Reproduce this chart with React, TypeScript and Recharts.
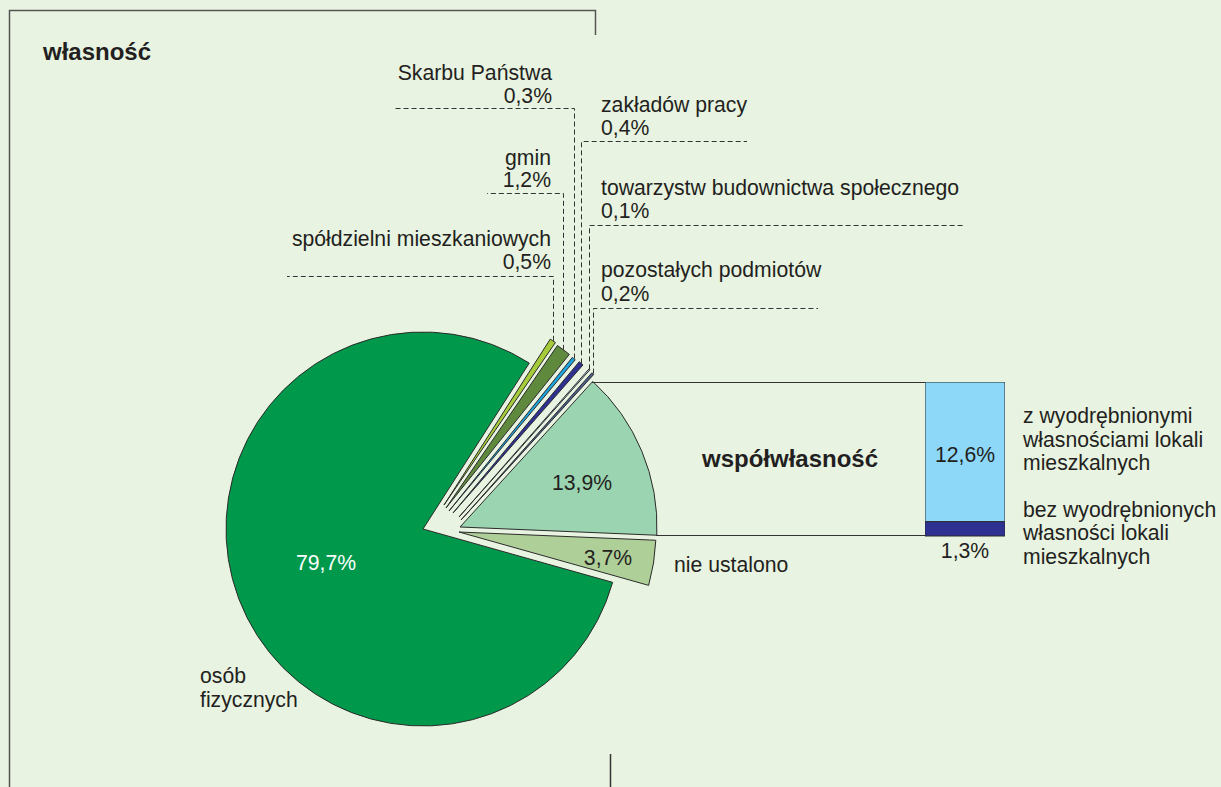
import React from "react";
import {
  PieChart,
  Pie,
  Cell,
  Sector,
  BarChart,
  Bar,
  XAxis,
  YAxis,
  LabelList
} from "recharts";

// struktura własności - kolejność wycinków przeciwnie do ruchu wskazówek zegara
const SLICE_NAMES = [
  "współwłasność",
  "pozostałych podmiotów",
  "towarzystw budownictwa społecznego",
  "zakładów pracy",
  "Skarbu Państwa",
  "gmin",
  "spółdzielni mieszkaniowych",
  "osób fizycznych",
  "nie ustalono"
];
const SLICE_VALUES = [13.9, 0.2, 0.1, 0.4, 0.3, 1.2, 0.5, 79.7, 3.7];

// rozbicie współwłasności
const CO_NAMES = ["bez wyodrębnionych", "z wyodrębnionymi"];
const CO_VALUES = [1.3, 12.6];

const SLICE_COLORS = [
  "#9bd4b0",
  "#4b5f8a",
  "#bfe3f5",
  "#2e3192",
  "#1ba3dd",
  "#5f8a3e",
  "#a5cb3a",
  "#00994c",
  "#afcf98"
];

// przesunięcie wysuniętych wycinków [dx, dy]
const SLICE_SHIFT: number[][] = [
  [37, -2],
  [38, -9],
  [36, -12],
  [30, -16],
  [26, -18],
  [23, -21],
  [21, -24],
  [0, 0],
  [36, 3]
];

// linie odniesienia: wysokość poziomej linii i jej drugi koniec
const LEADERS: Record<string, { y: number; end: number }> = {
  "spółdzielni mieszkaniowych": { y: 276.5, end: 287 },
  gmin: { y: 193.5, end: 487 },
  "Skarbu Państwa": { y: 108.5, end: 395 },
  "zakładów pracy": { y: 141.5, end: 747 },
  "towarzystw budownictwa społecznego": { y: 225.5, end: 965 },
  "pozostałych podmiotów": { y: 308.5, end: 818 }
};

const RADIAN = Math.PI / 180;
const FONT = "'Liberation Sans', Arial, sans-serif";
const INK = "#231f20";
const FS = 21.2;

const pieData = SLICE_NAMES.map((name, i) => ({ name, value: SLICE_VALUES[i] }));
const barData = [{ name: "współwłasność", bez: CO_VALUES[0], z: CO_VALUES[1] }];

function renderSlice(props: any) {
  const { cx, cy, innerRadius, outerRadius, startAngle, endAngle, fill, midAngle } = props;
  const name = props.name ?? props.payload?.name;
  const i = SLICE_NAMES.indexOf(name);
  const [dx, dy] = SLICE_SHIFT[i] ?? [0, 0];
  const x = cx + dx;
  const y = cy + dy;
  const leader = LEADERS[name];
  let line = null;
  if (leader) {
    const tx = Math.round(x + outerRadius * Math.cos(-midAngle * RADIAN)) + 0.5;
    const ty = y + outerRadius * Math.sin(-midAngle * RADIAN);
    line = (
      <polyline
        points={`${tx},${ty} ${tx},${leader.y} ${leader.end},${leader.y}`}
        fill="none"
        stroke="#333"
        strokeWidth={1}
        strokeDasharray="5 3"
      />
    );
  }
  return (
    <g>
      {line}
      <Sector
        cx={x}
        cy={y}
        innerRadius={innerRadius}
        outerRadius={outerRadius}
        startAngle={startAngle}
        endAngle={endAngle}
        fill={fill}
        stroke="#2b2b2b"
        strokeWidth={1}
      />
    </g>
  );
}

function T({ x, y, children, anchor = "start", bold = false, size = FS, fill = INK }: any) {
  return (
    <text x={x} y={y} textAnchor={anchor} fontSize={size} fontWeight={bold ? 700 : 400} fill={fill} fontFamily={FONT}>
      {children}
    </text>
  );
}

export default function App() {
  return (
    <div style={{ position: "absolute", left: 0, top: 0, width: 1221, height: 787, background: "#e8f3e1", overflow: "hidden" }}>
      <div style={{ position: "absolute", left: 0, top: 0 }}>
        <PieChart width={1221} height={787} margin={{ top: 0, right: 0, bottom: 0, left: 0 }}>
          <Pie
            data={pieData}
            dataKey="value"
            nameKey="name"
            cx={423}
            cy={529}
            innerRadius={0}
            outerRadius={197}
            startAngle={-2.4}
            endAngle={357.6}
            paddingAngle={0}
            isAnimationActive={false}
            shape={renderSlice}
            activeShape={renderSlice}
            inactiveShape={renderSlice}
          >
            {pieData.map((d, i) => (
              <Cell key={d.name} fill={SLICE_COLORS[i]} />
            ))}
          </Pie>
        </PieChart>
      </div>

      <div style={{ position: "absolute", left: 925, top: 382 }}>
        <BarChart width={80} height={200} data={barData} margin={{ top: 0, right: 0, bottom: 46, left: 0 }} barCategoryGap={0}>
          <XAxis dataKey="name" hide />
          <YAxis hide domain={[0, 13.9]} />
          <Bar dataKey="bez" stackId="a" fill="#2e3192" stroke="#2b2b2b" strokeWidth={1} isAnimationActive={false}>
            <LabelList
              dataKey="bez"
              content={(p: any) => (
                <text x={p.x + p.width / 2} y={p.y + p.height + 22} textAnchor="middle" fontSize={FS} fill={INK} fontFamily={FONT}>
                  {String(p.value).replace(".", ",")}%
                </text>
              )}
            />
          </Bar>
          <Bar dataKey="z" stackId="a" fill="#8dd8f8" stroke="#2b2b2b" strokeWidth={1} isAnimationActive={false}>
            <LabelList
              dataKey="z"
              content={(p: any) => (
                <text x={p.x + p.width / 2} y={p.y + p.height / 2 + 10} textAnchor="middle" fontSize={FS} fill={INK} fontFamily={FONT}>
                  {String(p.value).replace(".", ",")}%
                </text>
              )}
            />
          </Bar>
        </BarChart>
      </div>

      <svg width={1221} height={787} style={{ position: "absolute", left: 0, top: 0, pointerEvents: "none" }}>
        {/* ramka */}
        <polyline points="9.5,787 9.5,10.5 595.5,10.5 595.5,35" fill="none" stroke="#555" strokeWidth={1.5} />
        <line x1={610.5} y1={754} x2={610.5} y2={787} stroke="#333" strokeWidth={1.5} />
        {/* połączenie z kolumną */}
        <line x1={592} y1={382.5} x2={925} y2={382.5} stroke="#333" strokeWidth={1} />
        <line x1={656} y1={535.5} x2={925} y2={535.5} stroke="#333" strokeWidth={1} />

        <T x={43} y={60} bold size={24}>własność</T>
        <T x={552} y={80} anchor="end">Skarbu Państwa</T>
        <T x={552} y={103} anchor="end">0,3%</T>
        <T x={551} y={165} anchor="end">gmin</T>
        <T x={551} y={187} anchor="end">1,2%</T>
        <T x={551} y={246} anchor="end">spółdzielni mieszkaniowych</T>
        <T x={551} y={269} anchor="end">0,5%</T>
        <T x={601} y={112}>zakładów pracy</T>
        <T x={601} y={135}>0,4%</T>
        <T x={601} y={195}>towarzystw budownictwa społecznego</T>
        <T x={601} y={218}>0,1%</T>
        <T x={601} y={277}>pozostałych podmiotów</T>
        <T x={601} y={301}>0,2%</T>

        <T x={582} y={490} anchor="middle">13,9%</T>
        <T x={608} y={565} anchor="middle">3,7%</T>
        <T x={326} y={570} anchor="middle" fill="#ffffff">79,7%</T>
        <T x={674} y={572}>nie ustalono</T>
        <T x={200} y={683}>osób</T>
        <T x={200} y={707}>fizycznych</T>

        <T x={702} y={467} bold size={24}>współwłasność</T>

        <T x={1023} y={423}>z wyodrębnionymi</T>
        <T x={1023} y={447}>własnościami lokali</T>
        <T x={1023} y={470}>mieszkalnych</T>
        <T x={1023} y={517}>bez wyodrębnionych</T>
        <T x={1023} y={540}>własności lokali</T>
        <T x={1023} y={564}>mieszkalnych</T>
      </svg>
    </div>
  );
}
